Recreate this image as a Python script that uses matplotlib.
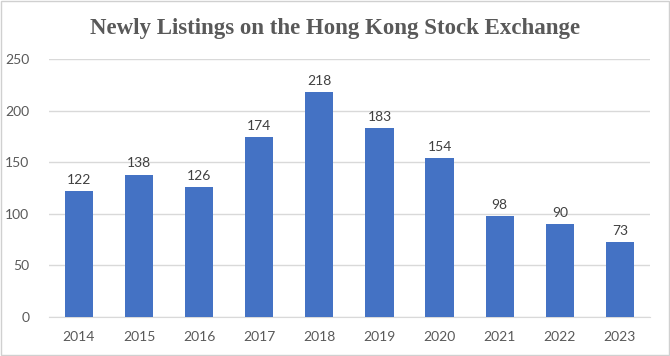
import matplotlib
matplotlib.use("Agg")
import matplotlib.pyplot as plt
from matplotlib.patches import Rectangle

years = ["2014", "2015", "2016", "2017", "2018", "2019", "2020", "2021", "2022", "2023"]
listings = [122, 138, 126, 174, 218, 183, 154, 98, 90, 73]

bar_color = "#4472C4"
text_color = "#595959"
grid_color = "#D9D9D9"

fig = plt.figure(figsize=(6.7, 3.56), dpi=100)
ax = fig.add_axes([0.073, 0.1096, 0.897, 0.7244])

x = range(len(years))
bars = ax.bar(x, listings, width=0.47, color=bar_color, zorder=3)
for xi, v in zip(x, listings):
    ax.text(xi, v + 5, str(v), ha="center", va="bottom", fontsize=10,
            family="Lato", color="#404040")

ax.set_xlim(-0.5, len(years) - 0.5)
ax.set_ylim(0, 250)
ax.set_yticks(range(0, 251, 50))
ax.set_xticks(list(x))
ax.set_xticklabels(years)
ax.yaxis.grid(True, color=grid_color, linewidth=1, zorder=0)
for s in ["top", "right", "left"]:
    ax.spines[s].set_visible(False)
ax.spines["bottom"].set_color(grid_color)
ax.tick_params(axis="both", length=0, labelsize=10, labelcolor=text_color)
ax.tick_params(axis="x", pad=10)
ax.tick_params(axis="y", pad=14)
for lab in ax.get_xticklabels() + ax.get_yticklabels():
    lab.set_family("Lato")

fig.text(0.5, 0.92, "Newly Listings on the Hong Kong Stock Exchange", ha="center",
         va="center", fontsize=16.5, fontweight="bold", family="Liberation Serif",
         color=text_color)

fig.patches.append(Rectangle((0.002, 0.003), 0.996, 0.994, transform=fig.transFigure,
                             fill=False, edgecolor="#D0D0D0", linewidth=1))

fig.savefig("out.png", dpi=100)
